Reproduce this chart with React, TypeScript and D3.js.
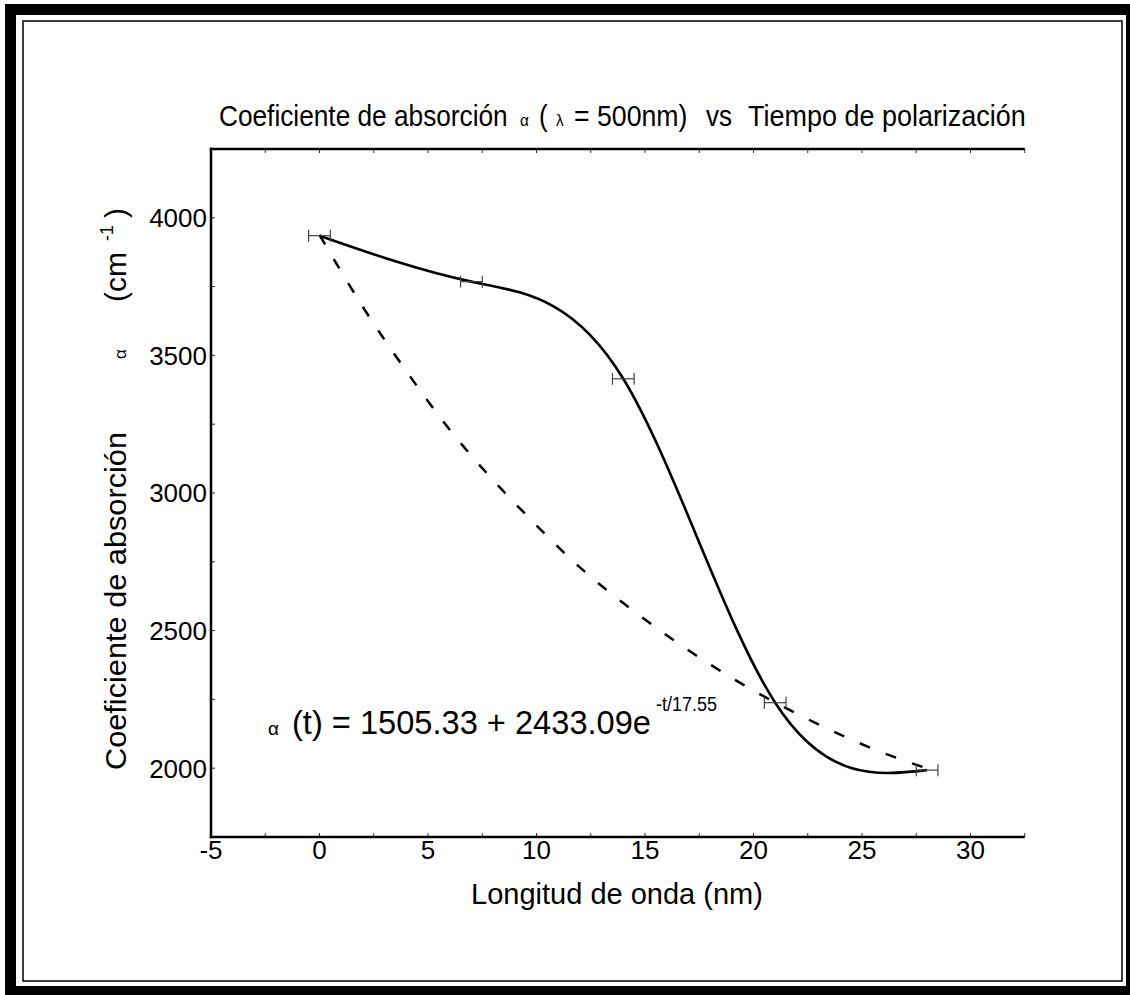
import React from "react";
import * as d3 from "d3";

// ---- data ----
const xTickValues = [-5, 0, 5, 10, 15, 20, 25, 30];
const yTickValues = [2000, 2500, 3000, 3500, 4000];
const xMinorTicks = [-5, -2.5, 0, 2.5, 5, 7.5, 10, 12.5, 15, 17.5, 20, 22.5, 25, 27.5, 30, 32.5];
const yMinorTicks = [1750, 2000, 2250, 2500, 2750, 3000, 3250, 3500, 3750, 4000, 4250];

// measured points (solid curve, with horizontal error bars)
const measTime = [0, 7, 14, 21, 28];
const measAlpha = [3935, 3768, 3415, 2238, 1993];
const measErr = [0.5, 0.5, 0.5, 0.5, 0.5];

// exponential fit (dashed curve)
const fitTime = [0, 2, 4, 6, 8, 10, 12, 14, 16, 18, 20, 22, 24, 26, 28];
const fitAlpha = [3938, 3676, 3443, 3230, 3047, 2882, 2730, 2600, 2483, 2377, 2282, 2198, 2122, 2055, 1999];

const W = 1130;
const H = 995;
const FONT = "'Liberation Sans', Arial, sans-serif";

export default function App() {
  const x = d3.scaleLinear().domain([-5, 32.5]).range([211, 1024.75]);
  const y = d3.scaleLinear().domain([1750, 4250]).range([837, 149]);

  const solid = d3
    .line<number>()
    .x((_, i) => x(measTime[i]))
    .y((d) => y(d))
    .curve(d3.curveNatural)(measAlpha) as string;

  const dashed = d3
    .line<number>()
    .x((_, i) => x(fitTime[i]))
    .y((d) => y(d))
    .curve(d3.curveNatural)(fitAlpha) as string;

  const [x0, x1] = x.range();
  const [yb, yt] = y.range();

  const tt = (px: number, sx: number) => `translate(${px},126) scale(${sx},1)`;

  return (
    <svg
      width={W}
      height={H}
      style={{ position: "absolute", left: 0, top: 0, display: "block" }}
      fontFamily={FONT}
    >
      {/* frame */}
      <rect x={5} y={4} width={W - 5} height={H - 4} fill="#000" />
      <rect x={16} y={15} width={1110} height={971} fill="#fff" />
      <rect x={23} y={21} width={1099} height={960} fill="none" stroke="#000" strokeWidth={1.5} />

      {/* title, in pieces */}
      <g fill="#000" fontSize={29}>
        <text transform={tt(219, 0.905)}>Coeficiente de absorción</text>
        <text transform={tt(520, 0.9)} fontSize={17}>
          α
        </text>
        <text transform={tt(539, 0.9)}>(</text>
        <text transform={tt(556, 0.9)} fontSize={17}>
          λ
        </text>
        <text transform={tt(574, 0.92)}>= 500nm)</text>
        <text transform={tt(706, 0.9)}>vs</text>
        <text transform={tt(748, 0.93)}>Tiempo de polarización</text>
      </g>

      {/* minor ticks */}
      {xMinorTicks.map((t) => (
        <g key={"xt" + t} stroke="#333" strokeWidth={1}>
          <line x1={x(t)} x2={x(t)} y1={yt} y2={yt + 4} />
          <line x1={x(t)} x2={x(t)} y1={yb} y2={yb - 4} />
        </g>
      ))}
      {yMinorTicks.map((v) => (
        <line key={"yt" + v} x1={x0} x2={x0 + 4} y1={y(v)} y2={y(v)} stroke="#333" strokeWidth={1} />
      ))}

      {/* axes */}
      <line x1={x0} x2={x0} y1={yt - 1.2} y2={yb + 1.2} stroke="#000" strokeWidth={2.5} />
      <line x1={x0 - 1.2} x2={x1} y1={yb} y2={yb} stroke="#000" strokeWidth={2.5} />
      <line x1={x0 - 1.2} x2={x1} y1={yt} y2={yt} stroke="#000" strokeWidth={2.5} />

      {/* tick labels */}
      {xTickValues.map((t) => (
        <text key={"xl" + t} x={x(t)} y={859} fontSize={26} textAnchor="middle" fill="#000">
          {t}
        </text>
      ))}
      {yTickValues.map((v) => (
        <text key={"yl" + v} x={207} y={y(v)} dy="0.36em" fontSize={26} textAnchor="end" fill="#000">
          {v}
        </text>
      ))}

      {/* axis titles */}
      <text x={617} y={904} fontSize={29} textAnchor="middle" fill="#000">
        Longitud de onda (nm)
      </text>
      <g transform="translate(126,0) rotate(-90)">
        <text x={-770} y={0} fontSize={30} textLength={338} lengthAdjust="spacingAndGlyphs" fill="#000">
          Coeficiente de absorción
        </text>
        <text x={-359} y={0} fontSize={17} fill="#000">
          α
        </text>
        <text x={-302} y={0} fontSize={30} fill="#000">
          (cm
        </text>
        <text x={-241} y={-13} fontSize={18} fill="#000">
          -1
        </text>
        <text x={-218} y={0} fontSize={30} fill="#000">
          )
        </text>
      </g>

      {/* curves */}
      <path d={dashed} fill="none" stroke="#000" strokeWidth={2.5} strokeDasharray="11,17" />
      <path d={solid} fill="none" stroke="#000" strokeWidth={2.6} />

      {/* error bars */}
      {measTime.map((t, i) => {
        const cy = y(measAlpha[i]);
        const xa = x(t - measErr[i]);
        const xb = x(t + measErr[i]);
        return (
          <g key={"eb" + i} stroke="#444" strokeWidth={1.2}>
            <line x1={xa} x2={xb} y1={cy} y2={cy} />
            <line x1={xa} x2={xa} y1={cy - 6} y2={cy + 6} />
            <line x1={xb} x2={xb} y1={cy - 6} y2={cy + 6} />
          </g>
        );
      })}

      {/* fit equation */}
      <text x={268} y={735} fontSize={19} fill="#000">
        α
      </text>
      <text
        x={292}
        y={734}
        fontSize={34}
        textLength={359}
        lengthAdjust="spacingAndGlyphs"
        style={{ whiteSpace: "pre" }}
        fill="#000"
      >
        {"(t) = 1505.33 + 2433.09e"}
      </text>
      <text x={656} y={711} fontSize={20} textLength={61} lengthAdjust="spacingAndGlyphs" fill="#000">
        -t/17.55
      </text>
    </svg>
  );
}
